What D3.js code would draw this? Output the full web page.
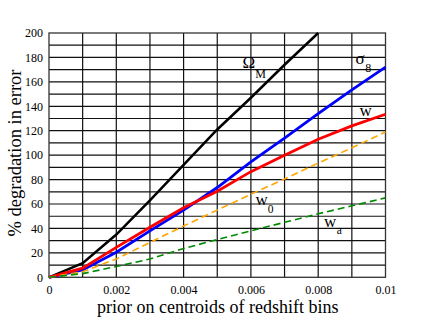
<!DOCTYPE html>
<html>
<head>
<meta charset="utf-8">
<script src="https://cdn.jsdelivr.net/npm/d3@7"></script>
<style>
  body { margin: 0; background: #fff; }
  svg text { font-family: "Liberation Serif", "Times New Roman", serif; fill: #000; }
</style>
</head>
<body>
<div class="chart"></div>
<script>
// prior on centroids (x) and % degradation for each parameter
var priors = [0, 0.001, 0.002, 0.003, 0.004, 0.005, 0.006, 0.007, 0.008, 0.009, 0.01];
var omegaM = [0, 11.5, 35, 63, 92, 121, 147, 174, 200];
var sigma8 = [0, 6, 20.5, 38, 55, 73.5, 94.5, 114, 134, 153.5, 172];
var wVals  = [0, 7.5, 24.5, 41, 57, 70.5, 86.5, 100, 113, 124, 133.5];
var w0Vals = [0, 4.5, 15, 28.5, 42, 55, 68, 80.5, 93.5, 106, 119];
var waVals = [0, 3, 8.8, 15, 23.5, 31, 38, 45, 52, 58.5, 65];

var xTicks = [0, 0.002, 0.004, 0.006, 0.008, 0.01];
var yTicks = [0, 20, 40, 60, 80, 100, 120, 140, 160, 180, 200];

var values = { width: 423, height: 327, left: 49, top: 33, right: 385.5, bottom: 277.3 };
var serif = "'Liberation Serif', 'Times New Roman', serif";

var series = [
  { vals: omegaM, color: "#000000", w: 2.5, dash: null },
  { vals: sigma8, color: "#0000ff", w: 2.8, dash: null },
  { vals: wVals,  color: "#ff0000", w: 2.8, dash: null },
  { vals: w0Vals, color: "#ffa500", w: 1.6, dash: "7,4" },
  { vals: waVals, color: "#008800", w: 1.6, dash: "7,4" }
];

var x = d3.scaleLinear().domain([0, 0.01]).range([values.left, values.right]);
var y = d3.scaleLinear().domain([0, 200]).range([values.bottom, values.top]);

var svg = d3.select('.chart')
  .append('svg')
  .attr("width", values.width)
  .attr("height", values.height);

// grid: every 0.001 in x, every 10 in y
var grid = svg.append("g").attr("class", "grid");
grid.selectAll("line.v")
  .data(d3.range(1, 10).map(function (i) { return i * 0.001; }))
  .enter().append("line")
  .attr("x1", function (d) { return x(d); })
  .attr("x2", function (d) { return x(d); })
  .attr("y1", values.top)
  .attr("y2", values.bottom)
  .attr("stroke", "#111")
  .attr("stroke-width", 1.2);
grid.selectAll("line.h")
  .data(d3.range(1, 20).map(function (i) { return i * 10; }))
  .enter().append("line")
  .attr("x1", values.left)
  .attr("x2", values.right)
  .attr("y1", function (d) { return y(d); })
  .attr("y2", function (d) { return y(d); })
  .attr("stroke", "#111")
  .attr("stroke-width", 1.2);

// frame
svg.append("rect")
  .attr("x", values.left)
  .attr("y", values.top)
  .attr("width", values.right - values.left)
  .attr("height", values.bottom - values.top)
  .attr("fill", "none")
  .attr("stroke", "#333")
  .attr("stroke-width", 1.3);

// axes
var xAxis = d3.axisBottom(x).tickValues(xTicks).tickSize(0).tickPadding(8)
  .tickFormat(function (d) { return d === 0 ? "0" : String(+d.toFixed(3)); });
var yAxis = d3.axisLeft(y).tickValues(yTicks).tickSize(0).tickPadding(6);

svg.append("g")
  .attr("class", "x axis")
  .attr("transform", "translate(0," + values.bottom + ")")
  .call(xAxis)
  .attr("font-family", serif)
  .attr("font-size", 12)
  .call(function (g) { g.select(".domain").remove(); });

svg.append("g")
  .attr("class", "y axis")
  .attr("transform", "translate(" + values.left + ",0)")
  .call(yAxis)
  .attr("font-family", serif)
  .attr("font-size", 12)
  .call(function (g) { g.select(".domain").remove(); });

// axis titles
svg.append("text")
  .attr("x", (values.left + values.right) / 2 + 0.5)
  .attr("y", 312.5)
  .style("text-anchor", "middle")
  .style("font-size", "18px")
  .text("prior on centroids of redshift bins");

svg.append("text")
  .attr("transform", "translate(20.5," + 153 + ") rotate(-90)")
  .style("text-anchor", "middle")
  .style("font-size", "18.5px")
  .text("% degradation in error");

// curves
var line = d3.line()
  .x(function (d, i) { return x(priors[i]); })
  .y(function (d) { return y(d); });

svg.selectAll("path.curve")
  .data(series)
  .enter().append("path")
  .attr("class", "curve")
  .attr("d", function (d) { return line(d.vals); })
  .attr("fill", "none")
  .attr("stroke", function (d) { return d.color; })
  .attr("stroke-width", function (d) { return d.w; })
  .attr("stroke-dasharray", function (d) { return d.dash; });

// curve labels
function label(px, py, main, sub, size, subSize, dx, dy) {
  var t = svg.append("text")
    .attr("x", px)
    .attr("y", py)
    .style("font-size", size + "px");
  t.append("tspan").text(main);
  if (sub) {
    t.append("tspan")
      .attr("dx", dx)
      .attr("dy", dy)
      .style("font-size", subSize + "px")
      .text(sub);
  }
}
label(242.5, 67.5, "\u03A9", "M", 17, 12, 0, 10);
label(355.5, 64, "\u03C3", "8", 17, 12, 0.5, 7.5);
label(359.5, 116, "w", null, 17);
label(255.5, 205, "w", "0", 17, 11.5, 0, 8.3);
label(324, 226.7, "w", "a", 17, 11.5, 0.5, 7.6);
</script>
</body>
</html>
